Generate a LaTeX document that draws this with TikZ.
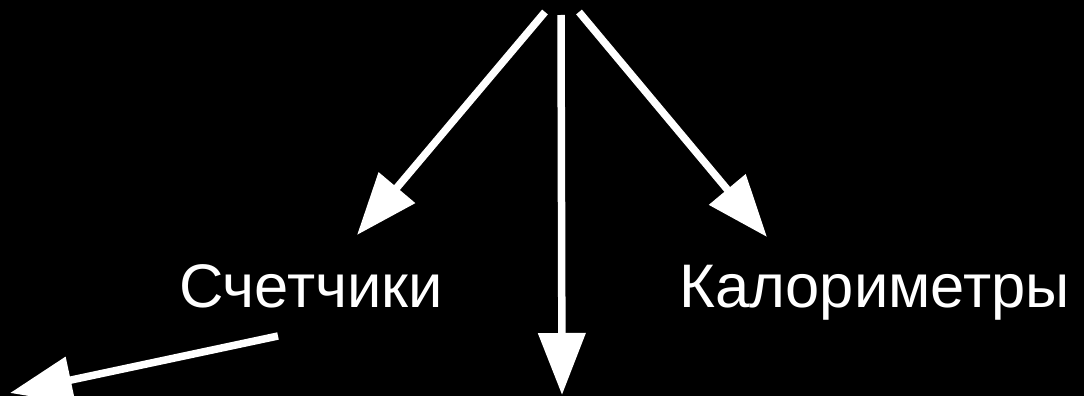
\documentclass[tikz,border=0pt]{standalone}
\usepackage{fontspec}
\setmainfont{Liberation Sans}
\usetikzlibrary{arrows.meta}
\begin{document}
\begin{tikzpicture}[x=1pt,y=-1pt,
  arr/.style={draw=white,line width=7.5pt,-{Triangle[length=62pt,width=46pt]}},
  lbl/.style={text=white,inner sep=0pt,anchor=base west,font=\fontsize{61.5}{70}\selectfont}]
\fill[black] (0,0) rectangle (1084,396);
\useasboundingbox (0,0) rectangle (1084,396);
\node[lbl] (cnt) at (179,307) {Счетчики};
\node[lbl] (cal) at (679,307) {Калориметры};
\coordinate (s1) at (545,12);
\coordinate (t1) at (357,235);
\coordinate (s2) at (561,15);
\coordinate (t2) at (562,395);
\coordinate (s3) at (579,12);
\coordinate (t3) at (767,237);
\coordinate (s4) at (278,336);
\coordinate (t4) at (10,393);
\draw[arr] (s1) -- (t1);
\draw[arr] (s2) -- (t2);
\draw[arr] (s3) -- (t3);
\draw[arr] (s4) -- (t4);
\end{tikzpicture}
\end{document}
